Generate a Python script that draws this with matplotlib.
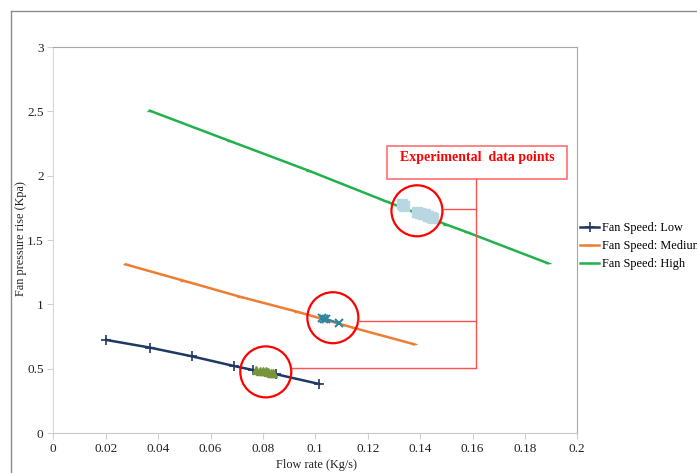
import matplotlib
matplotlib.use("Agg")
import matplotlib.pyplot as plt
from matplotlib.lines import Line2D
from matplotlib.patches import Rectangle

plt.rcParams['font.family'] = ['Liberation Serif', 'DejaVu Serif']

# Model curves
low_x = [0.0203, 0.0368, 0.0529, 0.0689, 0.0761, 0.085, 0.1015]
low_y = [0.723, 0.664, 0.596, 0.521, 0.49, 0.457, 0.381]
med_x = [0.0277, 0.0495, 0.0711, 0.093, 0.115, 0.1377]
med_y = [1.31, 1.185, 1.06, 0.943, 0.815, 0.69]
high_x = [0.0368, 0.0673, 0.0977, 0.127, 0.150, 0.158, 0.1887]
high_y = [2.505, 2.27, 2.037, 1.80, 1.62, 1.56, 1.32]

# Experimental points
exp_low_x = [0.0775, 0.0790, 0.0800, 0.0810, 0.0820, 0.0830, 0.0840]
exp_low_y = [0.49, 0.485, 0.48, 0.478, 0.475, 0.47, 0.465]
exp_med_x = [0.1025, 0.1033, 0.1040, 0.1091]
exp_med_y = [0.890, 0.887, 0.889, 0.852]
exp_high_x = [0.1330, 0.1340, 0.1390, 0.1400, 0.1410, 0.1420, 0.1430, 0.1440, 0.1450]
exp_high_y = [1.78, 1.765, 1.72, 1.712, 1.705, 1.70, 1.69, 1.68, 1.67]

# Annotation circle centres
circle_x = [0.1388, 0.1067, 0.0811]
circle_y = [1.727, 0.896, 0.475]

legend_labels = ["Fan Speed: Low", "Fan Speed: Medium", "Fan Speed: High"]

W, H = 697, 473
fig = plt.figure(figsize=(W / 100, H / 100), dpi=100)

# outer frame
fig.add_artist(Line2D([11 / W, 11 / W], [0, 1 - 11 / H], transform=fig.transFigure,
                      color='#8c8c8c', lw=1.0))
fig.add_artist(Line2D([11 / W, 1], [1 - 11 / H, 1 - 11 / H], transform=fig.transFigure,
                      color='#8c8c8c', lw=1.0))

ax = fig.add_axes([53.3 / W, 1 - 433 / H, (577.3 - 53.3) / W, (433 - 47) / H])

c_low = '#1f3864'
c_med = '#ed7d31'
c_high = '#22b14c'

ax.plot(low_x, low_y, color=c_low, lw=1.8, marker='+', ms=7, mew=1.2)
ax.plot(med_x, med_y, color=c_med, lw=1.8, marker='_', ms=5, mew=1.0)
ax.plot(high_x, high_y, color=c_high, lw=1.8, marker='_', ms=5, mew=1.0)

ax.plot(exp_low_x, exp_low_y, color='#77933c', lw=1.2, marker='^', ms=6, ls='-', zorder=4)
ax.plot(exp_med_x, exp_med_y, color='#31859c', lw=1.5, marker='x', ms=6, mew=1.5, zorder=4)
ax.plot(exp_high_x, exp_high_y, color='#b9d7e3', lw=0, marker='s', ms=7, zorder=4)

ax.scatter(circle_x, circle_y, s=(51 * 0.72) ** 2, facecolors='none',
           edgecolors='#ff0000', linewidths=1.6, zorder=5)

ax.set_xlim(0, 0.2)
ax.set_ylim(0, 3)
ax.set_xticks([0, 0.02, 0.04, 0.06, 0.08, 0.1, 0.12, 0.14, 0.16, 0.18, 0.2])
ax.set_xticklabels(['0', '0.02', '0.04', '0.06', '0.08', '0.1', '0.12', '0.14', '0.16', '0.18', '0.2'])
ax.set_yticks([0, 0.5, 1, 1.5, 2, 2.5, 3])
ax.set_yticklabels(['0', '0.5', '1', '1.5', '2', '2.5', '3'])
ax.tick_params(axis='both', labelsize=9.5, colors='#d0d0d0', labelcolor='#222222',
               length=4, width=0.8, direction='out')
ax.tick_params(axis='x', pad=3)
ax.tick_params(axis='y', pad=3)
for s in ['top', 'right']:
    ax.spines[s].set_color('#a6a6a6')
ax.spines['left'].set_color('#d9d9d9')
ax.spines['bottom'].set_color('#c8c8c8')

ax.set_xlabel('Flow rate (Kg/s)', fontsize=8.8, color='#222222', va='center')
ax.set_ylabel('Fan pressure rise (Kpa)', fontsize=8.8, color='#222222', va='center')
ax.xaxis.set_label_coords((316 - 53.3) / 524, (433 - 465) / 386)
ax.yaxis.set_label_coords((21 - 53.3) / 524, (433 - 239) / 386)

# annotation box & connectors (in pixel-based figure coords)
def fx(px):
    return px / W

def fy(py):
    return 1 - py / H

lc = '#ff5050'
fig.add_artist(Rectangle((fx(386.7), fy(179)), fx(567.3) - fx(386.7), fy(145.7) - fy(179),
                         transform=fig.transFigure, fill=False, edgecolor='#ff7070', lw=1.2))
fig.text(fx(477), fy(158), 'Experimental  data points', color='#ff0000', fontsize=10,
         fontweight='bold', ha='center', va='center')
fig.add_artist(Line2D([fx(476.5), fx(476.5)], [fy(179), fy(367.7)], transform=fig.transFigure,
                      color=lc, lw=1.0))
fig.add_artist(Line2D([fx(444), fx(476.5)], [fy(209), fy(209)], transform=fig.transFigure,
                      color=lc, lw=1.0))
fig.add_artist(Line2D([fx(358), fx(476.5)], [fy(321), fy(321)], transform=fig.transFigure,
                      color=lc, lw=1.0))
fig.add_artist(Line2D([fx(291.5), fx(476.5)], [fy(367.7), fy(367.7)], transform=fig.transFigure,
                      color=lc, lw=1.0))

# legend
handles = [Line2D([], [], color=c_low, lw=1.8, marker='+', ms=7, mew=1.2),
           Line2D([], [], color=c_med, lw=1.8, marker='_', ms=5),
           Line2D([], [], color=c_high, lw=1.8, marker='_', ms=5)]
fig.legend(handles, legend_labels, loc='upper left', bbox_to_anchor=(fx(575), fy(217)),
           frameon=False, fontsize=8.8, handlelength=1.6, handletextpad=0.2,
           labelspacing=0.5, borderaxespad=0)

fig.savefig('out.png', dpi=100)
